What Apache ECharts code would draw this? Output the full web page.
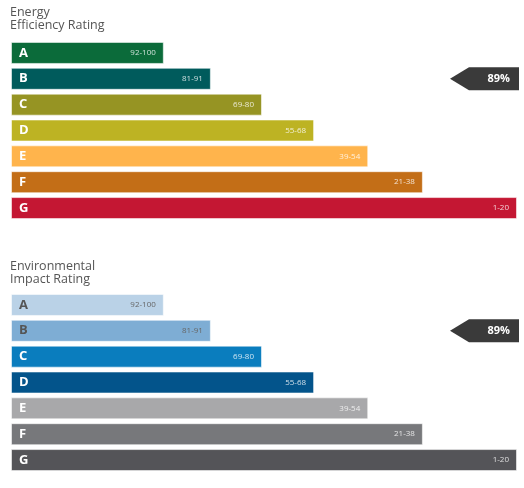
<!DOCTYPE html>
<html><head><meta charset="utf-8">
<script src="https://cdn.jsdelivr.net/npm/echarts@6/dist/echarts.min.js"></script>
<style>html,body{margin:0;padding:0;background:#fff}#c{width:524px;height:488px}</style>
</head><body><div id="c"></div>
<script>
const categories = ['A', 'B', 'C', 'D', 'E', 'F', 'G'];
const ranges = ['92-100', '81-91', '69-80', '55-68', '39-54', '21-38', '1-20'];
const barLengths = [30.2, 39.5, 49.6, 59.9, 70.6, 81.4, 100];
const energyTitle = 'Energy\nEfficiency Rating';
const envTitle = 'Environmental\nImpact Rating';
const energyRating = ['B', '89%'];
const envRating = ['B', '89%'];

const energyColors = ['#0b6b3a', '#005b5c', '#969423', '#bdb323', '#ffb44c', '#c36e17', '#c41733'];
const envColors = ['#bad2e7', '#7eadd4', '#0a7dbe', '#03548b', '#a8a8aa', '#77787b', '#545458'];
const envLetterColors = ['#555', '#555', '#fff', '#fff', '#fff', '#fff', '#fff'];
const envRangeColors = ['#666', '#666', 'rgba(255,255,255,0.8)', 'rgba(255,255,255,0.8)', 'rgba(255,255,255,0.8)', 'rgba(255,255,255,0.8)', 'rgba(255,255,255,0.8)'];

const FONT = '"Open Sans", Lato, sans-serif';

function barSeries(idx, colors, letterColors, rangeColors) {
  return [
    {
      type: 'bar', xAxisIndex: idx, yAxisIndex: idx, barWidth: 22, silent: true,
      data: barLengths.map((v, i) => ({
        value: v,
        itemStyle: { color: colors[i], borderColor: 'rgba(255,255,255,0.55)', borderWidth: 1 },
        label: { color: letterColors ? letterColors[i] : '#fff' }
      })),
      label: {
        show: true, position: 'insideLeft', distance: 8,
        formatter: p => categories[p.dataIndex],
        fontFamily: FONT, fontWeight: 'bold', fontSize: 13, color: '#fff'
      }
    },
    {
      type: 'bar', xAxisIndex: idx, yAxisIndex: idx, barWidth: 22, barGap: '-100%', silent: true,
      data: barLengths.map((v, i) => ({
        value: v,
        label: { color: rangeColors ? rangeColors[i] : 'rgba(255,255,255,0.8)' }
      })),
      itemStyle: { color: 'rgba(0,0,0,0)' },
      label: {
        show: true, position: 'insideRight', distance: 8,
        formatter: p => ranges[p.dataIndex],
        fontFamily: FONT, fontSize: 8, color: 'rgba(255,255,255,0.8)'
      },
      z: 3
    }
  ];
}

function arrowSeries(idx, rating) {
  return {
    type: 'custom', xAxisIndex: idx, yAxisIndex: idx, clip: false, silent: true, z: 5,
    data: [[100, rating[0], rating[1]]],
    encode: { x: 0, y: 1 },
    renderItem: (params, api) => {
      const p = api.coord([api.value(0), api.value(1)]);
      const right = p[0] + 2, y = p[1], h = 11.5;
      const body = right - 50, tip = right - 69;
      return {
        type: 'group',
        children: [
          { type: 'polygon', shape: { points: [[right, y - h], [body, y - h], [tip, y], [body, y + h], [right, y + h]] },
            style: { fill: '#3a3a3a' } },
          { type: 'text', x: right - 9, y: y,
            style: { text: api.value(2), fill: '#fff', font: 'bold 11px ' + FONT, align: 'right', verticalAlign: 'middle' } }
        ]
      };
    }
  };
}

const chart = echarts.init(document.getElementById('c'));
chart.setOption({
  backgroundColor: '#fff',
  animation: false,
  title: [
    { text: energyTitle, left: 10, top: 6, padding: 0, textStyle: { fontFamily: FONT, fontSize: 12.5, fontWeight: 'normal', color: '#555', lineHeight: 13 } },
    { text: envTitle, left: 10, top: 260, padding: 0, textStyle: { fontFamily: FONT, fontSize: 12.5, fontWeight: 'normal', color: '#555', lineHeight: 13 } }
  ],
  grid: [
    { left: 11, width: 506, top: 40, height: 181 },
    { left: 11, width: 506, top: 292, height: 181 }
  ],
  xAxis: [0, 1].map(i => ({ type: 'value', gridIndex: i, min: 0, max: 100, show: false })),
  yAxis: [0, 1].map(i => ({ type: 'category', gridIndex: i, data: categories, inverse: true, show: false })),
  series: [
    ...barSeries(0, energyColors, null, null),
    arrowSeries(0, energyRating),
    ...barSeries(1, envColors, envLetterColors, envRangeColors),
    arrowSeries(1, envRating)
  ]
});
</script>
</body></html>
